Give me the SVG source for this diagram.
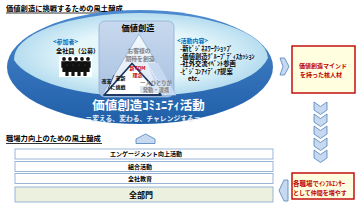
<svg xmlns="http://www.w3.org/2000/svg" width="359" height="209" viewBox="0 0 359 209">
<style>
.jp{font-family:"Noto Sans CJK JP","Noto Sans",sans-serif;font-weight:bold}
.blk{fill:#000}
.blu{fill:#0070c0}
.red{fill:#c00000}
.gry{fill:#7f7f7f}
.wht{fill:#fff}
.bar{fill:#fff;stroke:#8eaed6;stroke-width:0.9}
.arw{fill:#c6d9f1;stroke:#4f81bd;stroke-width:0.8;stroke-linejoin:round}
.rbox{fill:#ffffe0;stroke:#c00000;stroke-width:1.4}
.ul{stroke:#000;stroke-width:0.8}
</style>
<defs>
<linearGradient id="gDark" x1="0" y1="0" x2="0" y2="1"><stop offset="0" stop-color="#4d8ad0"/><stop offset="1" stop-color="#1f5fa8"/></linearGradient>
<radialGradient id="gIn" cx="0.5" cy="0.5" r="0.55"><stop offset="0.5" stop-color="#e6f7fb"/><stop offset="1" stop-color="#aad6ec"/></radialGradient>
<linearGradient id="gBox" x1="0" y1="0" x2="0" y2="1"><stop offset="0" stop-color="#c8d9ee"/><stop offset="1" stop-color="#a8c1e0"/></linearGradient>
<linearGradient id="gTri" x1="0" y1="0" x2="0" y2="1"><stop offset="0" stop-color="#f4f8fc"/><stop offset="1" stop-color="#dbe6f3"/></linearGradient>
<g id="person"><circle cx="0" cy="0" r="1.9"/><path d="M-2.7,2.3 h5.4 v6.5 h-1.1 v4.2 h-3.2 v-4.2 h-1.1 z"/></g>
<polygon id="chev" points="0,0 6.5,4.5 13,0 13,8 6.5,12.5 0,8" class="arw"/>
</defs>

<g id="title1">
<text class="jp blk" x="6" y="11" font-size="7.3">価値創造に挑戦するための風土醸成</text>
<line class="ul" x1="6" y1="13" x2="122" y2="13"/>
</g>

<g id="community">
<ellipse cx="140" cy="67" rx="133" ry="57" fill="url(#gDark)"/>
<path d="M14,60 A127,46 0 0 1 268,58 C255,85 200,95 140,96 C80,97 28,82 14,60 Z" fill="url(#gIn)"/>
<text class="jp wht" x="148.5" y="110" font-size="12.5" text-anchor="middle">価値創造ｺﾐｭﾆﾃｨ活動</text>
<text class="jp" x="143" y="120.5" font-size="6.8" text-anchor="middle" fill="#e6eef8">＝変える、変わる、チャレンジする＝</text>
</g>

<g id="participants">
<text class="jp blu" x="53" y="44" font-size="6">&lt;参加者&gt;</text>
<text class="jp blk" x="56" y="53" font-size="6.2">全社員（公募）</text>
<rect x="59" y="56" width="33" height="21" fill="#fff"/>
<g fill="#111">
<use href="#person" x="64" y="59"/><use href="#person" x="70" y="59"/><use href="#person" x="76" y="59"/><use href="#person" x="82" y="59"/><use href="#person" x="88" y="59"/>
<use href="#person" x="67" y="63"/><use href="#person" x="73" y="63"/><use href="#person" x="79" y="63"/><use href="#person" x="85" y="63"/>
</g>
</g>

<g id="value-box">
<rect x="99" y="21" width="75" height="76" rx="6" fill="url(#gBox)" stroke="#8eaed6" stroke-width="0.8"/>
<text class="jp blk" x="138" y="30.5" font-size="8.2" text-anchor="middle">価値創造</text>
<polygon points="139,34 102,95 176,95" fill="url(#gTri)" stroke="#8eaed6" stroke-width="0.8"/>
<text class="jp gry" x="139" y="53" font-size="5.8" text-anchor="middle" font-weight="normal">お客様の</text>
<text class="jp gry" x="140" y="60.5" font-size="5.8" text-anchor="middle" font-weight="normal">期待を創造</text>
<polygon points="147,63 158,63 176,95 160,95" fill="#c6d9f1"/>
<line x1="147" y1="63" x2="166" y2="95" stroke="#fff" stroke-width="0.8" stroke-dasharray="2,1"/>
<polygon points="132,63.5 104,95 161,95" fill="#fff" stroke="#1f3864" stroke-width="1.8" stroke-linejoin="round"/>
<line x1="114" y1="75" x2="108" y2="89" stroke="#1f3864" stroke-width="0.8"/>
<text class="jp red" x="137.5" y="69.5" font-size="5" text-anchor="middle">新TQM</text>
<text class="jp red" x="137.5" y="76.5" font-size="5" text-anchor="middle">理念</text>
<text class="jp blk" x="101.5" y="82.5" font-size="5">改革</text>
<text class="jp blk" x="115.5" y="80" font-size="5">革新</text>
<text class="jp blk" x="110.5" y="88.5" font-size="5">に挑戦</text>
<rect x="140" y="86" width="30" height="7" fill="#dbe6f3"/>
<text class="jp gry" x="156" y="84.5" font-size="5.3" text-anchor="middle" font-weight="normal">一人ひとりが</text>
<text class="jp gry" x="156" y="92" font-size="5.3" text-anchor="middle" font-weight="normal">発動・連携</text>
</g>

<g id="activities">
<text class="jp blu" x="177" y="42.5" font-size="6">&lt;活動内容&gt;</text>
<text class="jp blk" x="180" y="51" font-size="6.3">-新ﾋﾞｼﾞﾈｽﾜｰｸｼｮｯﾌﾟ</text>
<text class="jp blk" x="180" y="58.5" font-size="6.3">-価値創造ｸﾞﾙｰﾌﾟﾃﾞｨｽｶｯｼｮﾝ</text>
<text class="jp blk" x="180" y="66" font-size="6.3">-社外交流ｲﾍﾞﾝﾄ参画</text>
<text class="jp blk" x="180" y="73.5" font-size="6.3">-ﾋﾞｼﾞｺﾝｱｲﾃﾞｨｱ提案</text>
<text class="jp blk" x="188" y="81" font-size="6.3">etc.</text>
</g>

<g id="core-talent">
<rect class="rbox" x="292" y="46" width="63" height="47"/>
<text class="jp red" x="323" y="67.5" font-size="6" text-anchor="middle">価値創造マインド</text>
<text class="jp red" x="321" y="76.5" font-size="6" text-anchor="middle">を持った核人材</text>
</g>

<g id="title2">
<text class="jp blk" x="6" y="141" font-size="7.3">職場力向上のための風土醸成</text>
<line class="ul" x1="6" y1="143.5" x2="102" y2="143.5"/>
</g>

<g id="bar-engagement">
<rect class="bar" x="15" y="149" width="258" height="10"/>
<text class="jp blk" x="146" y="156.3" font-size="6" text-anchor="middle">エンゲージメント向上活動</text>
</g>
<g id="bar-union">
<rect class="bar" x="15" y="161.5" width="258" height="10"/>
<text class="jp blk" x="140" y="168.8" font-size="6" text-anchor="middle">組合活動</text>
</g>
<g id="bar-education">
<rect class="bar" x="15" y="173.5" width="258" height="10"/>
<text class="jp blk" x="140" y="180.8" font-size="6" text-anchor="middle">全社教育</text>
</g>
<g id="bar-all">
<rect class="bar" x="15" y="187" width="258" height="15" style="fill:#ebf1de"/>
<text class="jp blk" x="141" y="197.8" font-size="8" text-anchor="middle">全部門</text>
</g>

<g id="influencer">
<rect class="rbox" x="292" y="173" width="62" height="26"/>
<text class="jp red" x="293" y="185.5" font-size="6.5">各職場でｲﾝﾌﾙｴﾝｻｰ</text>
<text class="jp red" x="293" y="194.5" font-size="6">として仲間を増やす</text>
</g>

<g id="connectors">
<polygon class="arw" points="280,58 284.5,58 289,66.5 284.5,75 280,75 283,66.5"/>
<use href="#chev" x="314" y="102"/>
<use href="#chev" x="314" y="114"/>
<use href="#chev" x="314" y="126"/>
<use href="#chev" x="314" y="138"/>
<use href="#chev" x="314" y="150"/>
<polygon class="arw" points="288,180 284,180 279,190.5 284,201 288,201"/>
<polygon class="arw" points="136,143.5 136,139 145.5,134 155,139 155,143.5"/>
</g>
</svg>
